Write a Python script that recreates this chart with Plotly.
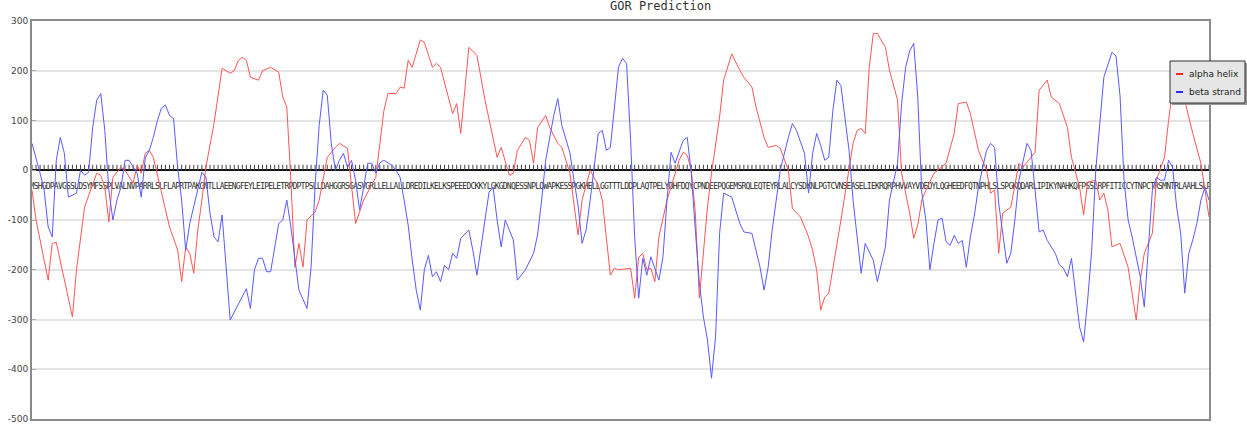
import plotly.graph_objects as go

# ---------------- data ----------------
sequence = (
    "MSHGDPAVGSSLDSYMFSSPLVALNVPARRLSLFLAPRTPAKGNTLLAEENGFEYLEIPELETRPDPTPSLLDAHGGRSGASVGRLLELLALLDR"
    "EDILKELKSPEEEDCKKYLGKGDNQESSNPLQWAPKESSPGKHELLGGTTTLDDPLAQTPELYDHFDQYCPNDEEPQGEMSRQLEQTEYRLALCYSDKN"
    "LPGTCVNSEASELIEKRQRPHVVAYVDEDYLQGHEEDFQTNPHLSLSPGKQDARLIPIKYNAHKQFPSSLRPFITICCYTNPCTRSMNTRLAAHLSLP"
)

helix_pos = [0, 1, 4, 5, 6, 10, 11, 13, 16, 17, 18, 19, 20, 22, 23, 25, 26, 27, 28, 29, 30, 32, 34, 36, 37, 38,
             39, 40, 41, 42, 43, 45, 47, 49, 50, 51, 52, 53, 54, 56, 57, 59, 61, 62, 63, 64, 65, 66, 67, 68, 70,
             71, 73, 75, 76, 78, 79, 80, 82, 85, 87, 88, 90, 91, 92, 93, 94, 96, 97, 99, 100, 101, 104, 105, 106,
             108, 110, 112, 115, 116, 118, 119, 120, 122, 123, 124, 125, 127, 128, 130, 131, 133, 135, 136, 138,
             140, 141, 143, 144, 145, 148, 149, 150, 151, 152, 153, 154, 155, 157, 160, 161, 162, 163, 164, 165,
             166, 167, 168, 170, 171, 173, 175, 176, 178, 179, 181, 182, 184, 185, 187, 188, 190, 192, 193, 194,
             195, 196, 197, 198, 200, 203, 204, 205, 206, 207, 208, 209, 211, 212, 214, 215, 217, 218, 219, 220,
             221, 223, 226, 228, 229, 231, 232, 234, 236, 237, 238, 239, 240, 242, 243, 244, 245, 248, 249, 251,
             252, 254, 256, 257, 259, 260, 261, 263, 264, 265, 266, 267, 269, 271, 273, 274, 275, 277, 278, 280,
             281, 282, 284, 285, 287, 289, 290, 291]
helix_val = [-40, -100, -221, -147, -145, -295, -200, -74, -6, -10, -34, -104, -14, 6, 0, -26, 10, -6, 34, 40, 26,
             -46, -114, -160, -224, -154, -167, -207, -120, -60, 6, 94, 205, 195, 200, 221, 227, 221, 187, 181, 200,
             207, 197, 147, 127, -20, -195, -147, -195, -100, -84, -60, 26, 46, 54, 44, -34, -107, -60, -14, 120,
             154, 154, 167, 165, 221, 207, 262, 257, 207, 215, 207, 114, 134, 74, 247, 231, 141, 26, 46, -10, -6,
             40, 66, 60, 14, 86, 110, 86, 54, 46, -6, -130, -60, 0, -30, -60, -211, -197, -200, -197, -257, -175,
             -167, -200, -197, -224, -134, -60, 20, 36, 30, 0, -86, -257, -161, -74, -6, 107, 181, 234, 201, 187,
             167, 127, 66, 46, 50, 44, 0, -77, -94, -134, -161, -200, -281, -255, -247, -195, -100, 54, 80, 84, 74,
             207, 275, 275, 247, 201, 141, -6, -86, -137, -110, -60, -40, -6, 14, 74, 134, 137, 114, 40, 0, -46,
             -40, -167, -86, -74, -30, 14, 6, 36, 161, 181, 147, 134, 86, 26, -34, -90, -24, -20, -60, -46, -80,
             -154, -147, -195, -301, -221, -167, -127, -20, 26, 100, 161, 150, 140, 74, 14, -40, -94]

strand_pos = [0, 1, 2, 3, 4, 5, 6, 7, 8, 9, 11, 12, 13, 14, 15, 16, 17, 18, 19, 20, 21, 22, 23, 24, 26, 27, 28,
              29, 30, 31, 32, 33, 34, 35, 36, 37, 38, 39, 40, 42, 43, 44, 45, 46, 47, 49, 53, 54, 55, 56, 57, 58,
              59, 61, 62, 63, 64, 66, 68, 69, 70, 71, 72, 73, 74, 75, 76, 77, 78, 79, 80, 81, 83, 84, 85, 86, 87,
              89, 90, 91, 92, 93, 94, 95, 96, 97, 98, 99, 100, 101, 102, 103, 104, 105, 106, 108, 109, 110, 113,
              114, 115, 116, 117, 119, 120, 122, 124, 125, 126, 127, 129, 130, 131, 133, 134, 135, 136, 137, 138,
              139, 140, 141, 142, 143, 145, 146, 147, 148, 149, 150, 151, 152, 153, 155, 156, 157, 158, 159, 161,
              162, 163, 164, 165, 166, 167, 168, 169, 170, 171, 173, 175, 176, 178, 180, 181, 182, 183, 184, 185,
              187, 188, 189, 191, 192, 193, 194, 195, 196, 197, 198, 199, 200, 201, 202, 203, 205, 206, 208, 209,
              211, 212, 214, 215, 216, 217, 218, 219, 220, 221, 222, 223, 224, 225, 226, 227, 228, 229, 230, 231,
              232, 233, 234, 236, 237, 238, 239, 241, 242, 243, 244, 246, 247, 248, 249, 250, 251, 253, 254, 255,
              256, 257, 259, 260, 261, 262, 263, 265, 267, 268, 269, 270, 271, 272, 274, 275, 276, 277, 278, 279,
              280, 281, 282, 283, 284, 285, 286, 287, 288, 289, 290, 291]
strand_val = [54, 26, -6, -40, -114, -134, 20, 66, 34, -54, -46, 0, -10, -4, 86, 141, 154, 80, -40, -100, -60, -34,
              20, 20, -6, -54, 25, 40, 66, 100, 125, 131, 110, 104, 6, -60, -161, -107, -74, -4, -14, -86, -134,
              -144, -90, -301, -238, -278, -200, -177, -177, -204, -204, -107, -100, -60, -114, -241, -278, -195,
              -30, 90, 161, 151, 54, 0, 20, 34, 6, 20, -20, -80, 14, 14, -6, 15, 20, 10, 0, -14, -60, -110, -180,
              -241, -281, -200, -171, -214, -204, -224, -191, -200, -167, -177, -137, -120, -161, -211, -44, -34,
              -100, -154, -100, -140, -221, -200, -167, -130, -60, 20, 110, 144, 90, 35, -20, -70, -147, -120, -60,
              10, 74, 80, 40, 46, 207, 225, 215, 60, -134, -257, -177, -211, -174, -221, -174, -60, 36, 14, 60, 66,
              -6, -120, -227, -295, -341, -418, -335, -127, -46, -54, -107, -124, -127, -195, -241, -195, -120, -60,
              0, 66, 94, 80, 34, -46, 34, 74, 50, 20, 26, 120, 181, 170, 110, 40, -60, -207, -147, -181, -224, -154,
              -60, 14, 134, 207, 240, 255, 147, -46, -100, -200, -147, -100, -96, -144, -151, -131, -147, -141,
              -195, -134, -90, -34, 40, 54, 46, -66, -187, -167, -100, -20, 54, 40, -40, -124, -120, -141, -167,
              -190, -197, -214, -177, -315, -345, -261, -161, 0, 187, 237, 230, 150, -20, -100, -134, -214, -275,
              -161, -40, -14, -20, -20, 20, 6, -74, -127, -247, -167, -140, -107, -60, -34, -60]

y_ticks = [300, 200, 100, 0, -100, -200, -300, -400, -500]
series_names = ["alpha helix", "beta strand"]
title_text = "GOR Prediction"

# ---------------- layout geometry ----------------
W, H = 1247, 426
ML, MR, MT, MB = 32, 38, 21, 7
PW, PH = W - ML - MR, H - MT - MB


def px(x):  # pixel x -> paper
    return (x - ML) / PW


def py(y):  # pixel y -> paper
    return (H - MB - y) / PH


RED = "rgb(255,85,85)"
BLUE = "rgb(90,90,255)"

n = len(sequence)
res = list(range(n))

fig = go.Figure()

# residue tick marks along the zero line
tx, ty = [], []
for i in res:
    tx += [i, i, None]
    ty += [0, 11, None]
fig.add_trace(go.Scatter(x=tx, y=ty, mode="lines", line=dict(color="#444", width=1),
                         hoverinfo="skip", showlegend=False))

# sequence letters
fig.add_trace(go.Scatter(x=res, y=[-33] * n, mode="text", text=list(sequence),
                         textfont=dict(family="DejaVu Sans Mono", size=8, color="#2a2a2a"),
                         hoverinfo="skip", showlegend=False))

fig.add_trace(go.Scatter(x=helix_pos, y=helix_val, mode="lines", name=series_names[0],
                         line=dict(color=RED, width=1), showlegend=False))
fig.add_trace(go.Scatter(x=strand_pos, y=strand_val, mode="lines", name=series_names[1],
                         line=dict(color=BLUE, width=1), showlegend=False))

fig.update_xaxes(range=[0, n - 1], showgrid=False, zeroline=False, showticklabels=False,
                 ticks="", showline=True, mirror=True, linecolor="#8a8a8a", linewidth=2)
fig.update_yaxes(range=[-500, 300], tickvals=y_ticks, ticktext=[str(v) for v in y_ticks],
                 showgrid=True, gridcolor="#e4e4e4", gridwidth=1.5,
                 zeroline=True, zerolinecolor="#111", zerolinewidth=2,
                 showline=True, mirror=True, linecolor="#8a8a8a", linewidth=2,
                 ticks="inside", ticklen=4, tickcolor="#aaa",
                 tickfont=dict(family="DejaVu Sans", size=9, color="#444"))

# manual legend box
lx0, lx1, ly0, ly1 = 1170, 1245, 61, 103
shapes = [
    dict(type="rect", xref="paper", yref="paper", x0=px(lx0 + 2), x1=px(lx1 + 2), y0=py(ly1 + 2), y1=py(ly0 + 2),
         fillcolor="#9a9a9a", line=dict(width=0), layer="above"),
    dict(type="rect", xref="paper", yref="paper", x0=px(lx0), x1=px(lx1), y0=py(ly1), y1=py(ly0),
         fillcolor="#e6e6e6", line=dict(color="#333", width=1), layer="above"),
    dict(type="line", xref="paper", yref="paper", x0=px(1176), x1=px(1183), y0=py(74), y1=py(74),
         line=dict(color="rgb(255,40,40)", width=2), layer="above"),
    dict(type="line", xref="paper", yref="paper", x0=px(1176), x1=px(1183), y0=py(92), y1=py(92),
         line=dict(color="rgb(40,40,255)", width=2), layer="above"),
]
annotations = [
    dict(text=series_names[0], xref="paper", yref="paper", x=px(1187), y=py(74), xanchor="left",
         yanchor="middle", showarrow=False, font=dict(family="DejaVu Sans", size=9, color="#222")),
    dict(text=series_names[1], xref="paper", yref="paper", x=px(1187), y=py(92), xanchor="left",
         yanchor="middle", showarrow=False, font=dict(family="DejaVu Sans", size=9, color="#222")),
    dict(text=title_text, xref="paper", yref="paper", x=px(660), y=py(6), xanchor="center",
         yanchor="middle", showarrow=False, font=dict(family="DejaVu Sans Mono", size=12, color="#333")),
]

fig.update_layout(width=W, height=H, margin=dict(l=ML, r=MR, t=MT, b=MB, autoexpand=False),
                  paper_bgcolor="white", plot_bgcolor="white", showlegend=False,
                  shapes=shapes, annotations=annotations)

fig.write_html("out.html", config={"displayModeBar": False},
               post_script="document.body.style.margin='0px';")
